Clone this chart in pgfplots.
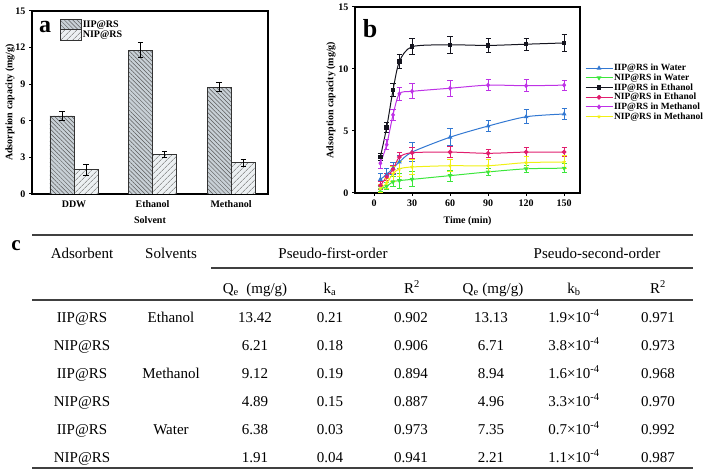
\documentclass[border=0pt]{standalone}
\usepackage{fontspec}
\setmainfont{Liberation Serif}
\usepackage{pgfplots}
\pgfplotsset{compat=1.18}
\usetikzlibrary{patterns.meta}

\definecolor{cIIPW}{RGB}{50,120,210}
\definecolor{cNIPW}{RGB}{60,230,60}
\definecolor{cIIPE}{RGB}{20,20,30}
\definecolor{cNIPE}{RGB}{225,30,110}
\definecolor{cIIPM}{RGB}{190,50,230}
\definecolor{cNIPM}{RGB}{240,240,20}
\definecolor{barA}{RGB}{200,208,214}
\definecolor{barB}{RGB}{236,240,242}

\newcommand\pf{\bfseries\fontsize{10}{12}\selectfont}
\newcommand\lf{\bfseries\fontsize{9.5}{11}\selectfont}
\newcommand\tf{\fontsize{15}{18}\selectfont}

\pgfplotsset{
  common/.style={
    scale only axis,
    axis line style={line width=1.2pt},
    tick style={line width=1pt, black},
    major tick length=3pt,
    tick align=outside,
    xtick pos=bottom, ytick pos=left,
    ticklabel style={font=\pf},
    label style={font=\pf},
    /pgf/number format/assume math mode=true,
  },
}

\begin{document}
\begin{tikzpicture}
\path[use as bounding box] (0,0) rectangle (709pt,469pt);

% ---------------- panel a ----------------
\begin{axis}[common,
  at={(32pt,275pt)}, anchor=south west,
  width=236pt, height=183pt,
  xmin=-0.535, xmax=2.47, ymin=0, ymax=15,
  ytick={0,3,6,9,12,15},
  xtick={0,1,2}, xticklabels={DDW,Ethanol,Methanol},
  xtick style={draw=none},
  ybar, bar width=0.306,
  ylabel={Adsorption capacity (mg/g)},
  xlabel={Solvent},
  ylabel style={at={(axis description cs:-0.093,0.5)}, anchor=center},
  xlabel style={at={(axis description cs:0.5,-0.142)}, anchor=center},
  legend style={at={(axis description cs:0.105,0.97)}, anchor=north west, draw=none, fill=none,
    font=\pf, row sep=-1pt, nodes={inner sep=1pt}},
  legend cell align=left,
  legend image code/.code={\draw[#1] (0pt,-5.5pt) rectangle (21pt,5.5pt);},
  error bars/y dir=both, error bars/y explicit,
  error bars/error bar style={line width=1pt, black},
  error bars/error mark options={rotate=90, mark size=2.6pt, line width=1pt, black},
]
\addplot[bar shift=-0.153, draw=black!80, line width=0.8pt, fill=barA,
  postaction={pattern={Lines[angle=-45,distance=3pt,line width=0.5pt]}, pattern color=black!65}]
  coordinates {(0,6.4) +- (0,0.4) (1,11.8) +- (0,0.65) (2,8.75) +- (0,0.35)};
\addplot[bar shift=0.153, draw=black!80, line width=0.8pt, fill=barB,
  postaction={pattern={Lines[angle=45,distance=4pt,line width=0.5pt]}, pattern color=black!60}]
  coordinates {(0,2.0) +- (0,0.45) (1,3.25) +- (0,0.25) (2,2.55) +- (0,0.3)};
\legend{IIP@RS, NIP@RS}
\end{axis}
\node[font=\bfseries\fontsize{24}{24}\selectfont] at (45pt,442pt) {a};

% ---------------- panel b ----------------
\begin{axis}[common,
  at={(355pt,276pt)}, anchor=south west,
  width=225pt, height=186pt,
  xmin=-15, xmax=162.5, ymin=0, ymax=15,
  xtick={0,30,60,90,120,150}, ytick={0,5,10,15},
  ylabel={Adsorption capacity (mg/g)},
  xlabel={Time (min)},
  ylabel style={yshift=-4pt},
  xlabel style={at={(axis description cs:0.5,-0.15)}, anchor=center},
  legend style={at={(axis description cs:1.008,0.71)}, anchor=north west, draw=none, fill=none,
    font=\lf, row sep=-0.4pt, nodes={inner sep=1pt},
    /tikz/every even column/.append style={column sep=0pt}},
  legend cell align=left,
  legend image code/.code={\draw[#1, mark=none] (0pt,0pt) -- (27pt,0pt); \draw[#1, only marks] plot coordinates {(13.5pt,0pt)};},
  every axis plot/.append style={line width=1pt, smooth, tension=0.45, mark size=1.8pt},
  error bars/y dir=both, error bars/y explicit,
  error bars/error bar style={line width=0.9pt},
  error bars/error mark options={rotate=90, mark size=2.6pt, line width=0.9pt},
]
\addplot[cIIPW, mark=triangle*, mark options={fill=cIIPW}] coordinates {
 (5,1.1) +- (0,0.5) (10,1.5) +- (0,0.5) (15,2.0) +- (0,0.5) (20,2.5) +- (0,0.5)
 (30,3.3) +- (0,0.75) (60,4.5) +- (0,0.7) (90,5.4) +- (0,0.45) (120,6.15) +- (0,0.55) (150,6.37) +- (0,0.45)};
\addplot[cNIPW, mark=triangle*, mark options={rotate=180, fill=cNIPW}] coordinates {
 (5,0.3) +- (0,0.2) (10,0.55) +- (0,0.3) (15,0.9) +- (0,0.4) (20,1.0) +- (0,0.6)
 (30,1.1) +- (0,0.6) (60,1.4) +- (0,0.45) (90,1.7) +- (0,0.3) (120,1.95) +- (0,0.3) (150,2.0) +- (0,0.35)};
\addplot[cIIPE, mark=square*, mark options={fill=cIIPE}] coordinates {
 (5,2.9) +- (0,0.3) (10,5.3) +- (0,0.4) (15,8.3) +- (0,0.5) (20,10.6) +- (0,0.55)
 (30,11.8) +- (0,0.65) (60,11.95) +- (0,0.7) (90,11.9) +- (0,0.6) (120,12.0) +- (0,0.5) (150,12.1) +- (0,0.65)};
\addplot[cNIPE, mark=*, mark options={fill=cNIPE}] coordinates {
 (5,0.6) +- (0,0.3) (10,1.3) +- (0,0.3) (15,1.9) +- (0,0.3) (20,2.9) +- (0,0.35)
 (30,3.25) +- (0,0.45) (60,3.3) +- (0,0.45) (90,3.2) +- (0,0.35) (120,3.3) +- (0,0.35) (150,3.3) +- (0,0.35)};
\addplot[cIIPM, mark=diamond*, mark options={fill=cIIPM}] coordinates {
 (5,2.4) +- (0,0.4) (10,3.9) +- (0,0.4) (15,6.3) +- (0,0.45) (20,8.0) +- (0,0.5)
 (30,8.2) +- (0,0.6) (60,8.45) +- (0,0.65) (90,8.7) +- (0,0.45) (120,8.65) +- (0,0.5) (150,8.7) +- (0,0.4)};
\addplot[cNIPM, mark=star, mark options={line width=0.8pt}] coordinates {
 (5,0.35) +- (0,0.3) (10,0.8) +- (0,0.4) (15,1.55) +- (0,0.6) (20,1.95) +- (0,0.6)
 (30,2.1) +- (0,0.6) (60,2.2) +- (0,0.5) (90,2.2) +- (0,0.5) (120,2.45) +- (0,0.5) (150,2.5) +- (0,0.5)};
\legend{IIP@RS in Water, NIP@RS in Water, IIP@RS in Ethanol, NIP@RS in Ethanol, IIP@RS in Methanol, NIP@RS in Methanol}
\end{axis}
\node[font=\bfseries\fontsize{26}{26}\selectfont] at (370pt,440pt) {b};

% ---------------- panel c (table) ----------------
\node[font=\bfseries\fontsize{21}{21}\selectfont] at (16pt,223pt) {c};
\draw[line width=1.1pt, black!75] (32pt,234pt) -- (693pt,234pt);
\draw[line width=1.1pt, black!75] (211pt,201pt) -- (693pt,201pt);
\draw[line width=1.1pt, black!75] (32pt,169pt) -- (693pt,169pt);
\draw[line width=1.1pt, black!75] (32pt,1pt) -- (693pt,1pt);
\begin{scope}[every node/.style={font=\tf, anchor=base, inner sep=0pt}]
\node at (82pt,211pt) {Adsorbent};
\node at (171pt,211pt) {Solvents};
\node at (333pt,211pt) {Pseudo-first-order};
\node at (597pt,211pt) {Pseudo-second-order};
\node at (255pt,176pt) {Q\textsubscript{e}\ \ (mg/g)};
\node at (330pt,176pt) {k\textsubscript{a}};
\node at (412pt,176pt) {R\textsuperscript{2}};
\node at (493pt,176pt) {Q\textsubscript{e} (mg/g)};
\node at (574pt,176pt) {k\textsubscript{b}};
\node at (658pt,176pt) {R\textsuperscript{2}};
% rows
\foreach \y/\a/\s/\q/\k/\r/\qq/\kk/\rr in {
  147/IIP@RS/Ethanol/13.42/0.21/0.902/13.13/1.9/0.971,
  119/NIP@RS//6.21/0.18/0.906/6.71/3.8/0.973,
  91/IIP@RS/Methanol/9.12/0.19/0.894/8.94/1.6/0.968,
  63/NIP@RS//4.89/0.15/0.887/4.96/3.3/0.970,
  35/IIP@RS/Water/6.38/0.03/0.973/7.35/0.7/0.992,
  7/NIP@RS//1.91/0.04/0.941/2.21/1.1/0.987}{
  \node at (82pt,\y pt) {\a};
  \node at (171pt,\y pt) {\s};
  \node at (255pt,\y pt) {\q};
  \node at (330pt,\y pt) {\k};
  \node at (411pt,\y pt) {\r};
  \node at (491pt,\y pt) {\qq};
  \node at (574pt,\y pt) {\kk×10\textsuperscript{-4}};
  \node at (658pt,\y pt) {\rr};
}
\end{scope}
\end{tikzpicture}
\end{document}
